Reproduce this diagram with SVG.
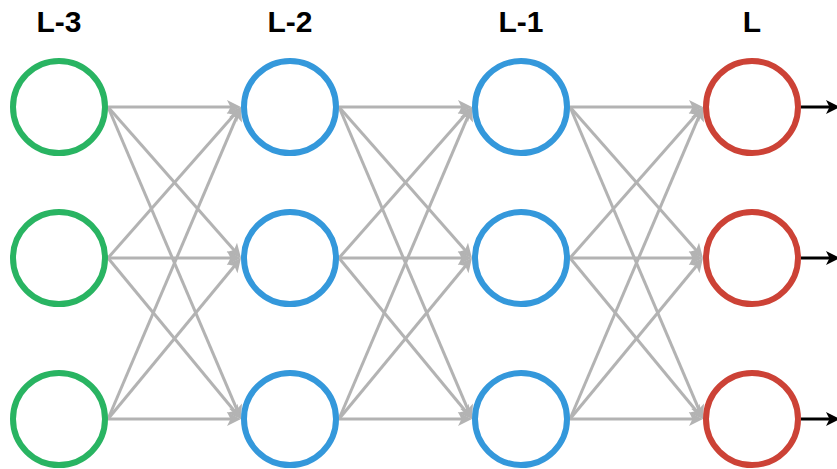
<svg xmlns="http://www.w3.org/2000/svg" width="837" height="469" viewBox="0 0 837 469">
<style>
.lbl{font-family:"Liberation Sans",Arial,sans-serif;font-weight:bold;font-size:30px;fill:#000;text-anchor:middle}
.e{stroke:#b3b3b3;stroke-width:3;fill:none;marker-end:url(#ag)}
.o{stroke:#000;stroke-width:3;fill:none;marker-end:url(#ab)}
.n{fill:#fff;stroke-width:6}
.g{stroke:#29b462}
.b{stroke:#3498db}
.r{stroke:#cc4236}
</style>
<defs>
<marker id="ag" markerUnits="userSpaceOnUse" orient="auto" refX="0" refY="0" markerWidth="20" markerHeight="20" overflow="visible">
<path d="M10,0 L-4,-7 L-0.5,0 L-4,7 Z" fill="#b3b3b3"/>
</marker>
<marker id="ab" markerUnits="userSpaceOnUse" orient="auto" refX="0" refY="0" markerWidth="20" markerHeight="20" overflow="visible">
<path d="M10,0 L-4,-7 L-0.5,0 L-4,7 Z" fill="#000"/>
</marker>
</defs>
<g id="labels">
<text class="lbl" x="59" y="31.5">L-3</text>
<text class="lbl" x="290" y="31.5">L-2</text>
<text class="lbl" x="521" y="31.5">L-1</text>
<text class="lbl" x="752" y="31.5">L</text>
</g>
<g id="connectors">
<line class="e" x1="108" y1="107" x2="231" y2="107"/>
<line class="e" x1="108" y1="107" x2="234.39" y2="250.5"/>
<line class="e" x1="108" y1="107" x2="237.08" y2="409.8"/>
<line class="e" x1="108" y1="258" x2="234.39" y2="114.5"/>
<line class="e" x1="108" y1="258" x2="231" y2="258"/>
<line class="e" x1="108" y1="258" x2="234.63" y2="411.29"/>
<line class="e" x1="108" y1="419" x2="237.08" y2="116.2"/>
<line class="e" x1="108" y1="419" x2="234.63" y2="265.71"/>
<line class="e" x1="108" y1="419" x2="231" y2="419"/>
<line class="e" x1="339" y1="107" x2="462" y2="107"/>
<line class="e" x1="339" y1="107" x2="465.39" y2="250.5"/>
<line class="e" x1="339" y1="107" x2="468.08" y2="409.8"/>
<line class="e" x1="339" y1="258" x2="465.39" y2="114.5"/>
<line class="e" x1="339" y1="258" x2="462" y2="258"/>
<line class="e" x1="339" y1="258" x2="465.63" y2="411.29"/>
<line class="e" x1="339" y1="419" x2="468.08" y2="116.2"/>
<line class="e" x1="339" y1="419" x2="465.63" y2="265.71"/>
<line class="e" x1="339" y1="419" x2="462" y2="419"/>
<line class="e" x1="570" y1="107" x2="693" y2="107"/>
<line class="e" x1="570" y1="107" x2="696.39" y2="250.5"/>
<line class="e" x1="570" y1="107" x2="699.08" y2="409.8"/>
<line class="e" x1="570" y1="258" x2="696.39" y2="114.5"/>
<line class="e" x1="570" y1="258" x2="693" y2="258"/>
<line class="e" x1="570" y1="258" x2="696.63" y2="411.29"/>
<line class="e" x1="570" y1="419" x2="699.08" y2="116.2"/>
<line class="e" x1="570" y1="419" x2="696.63" y2="265.71"/>
<line class="e" x1="570" y1="419" x2="693" y2="419"/>
<line class="o" x1="801" y1="107" x2="830" y2="107"/>
<line class="o" x1="801" y1="258" x2="830" y2="258"/>
<line class="o" x1="801" y1="419" x2="830" y2="419"/>
</g>
<g id="n-l3-1"><circle class="n g" cx="59" cy="107" r="46"/></g>
<g id="n-l3-2"><circle class="n g" cx="59" cy="258" r="46"/></g>
<g id="n-l3-3"><circle class="n g" cx="59" cy="419" r="46"/></g>
<g id="n-l2-1"><circle class="n b" cx="290" cy="107" r="46"/></g>
<g id="n-l2-2"><circle class="n b" cx="290" cy="258" r="46"/></g>
<g id="n-l2-3"><circle class="n b" cx="290" cy="419" r="46"/></g>
<g id="n-l1-1"><circle class="n b" cx="521" cy="107" r="46"/></g>
<g id="n-l1-2"><circle class="n b" cx="521" cy="258" r="46"/></g>
<g id="n-l1-3"><circle class="n b" cx="521" cy="419" r="46"/></g>
<g id="n-l-1"><circle class="n r" cx="752" cy="107" r="46"/></g>
<g id="n-l-2"><circle class="n r" cx="752" cy="258" r="46"/></g>
<g id="n-l-3"><circle class="n r" cx="752" cy="419" r="46"/></g>
</svg>
